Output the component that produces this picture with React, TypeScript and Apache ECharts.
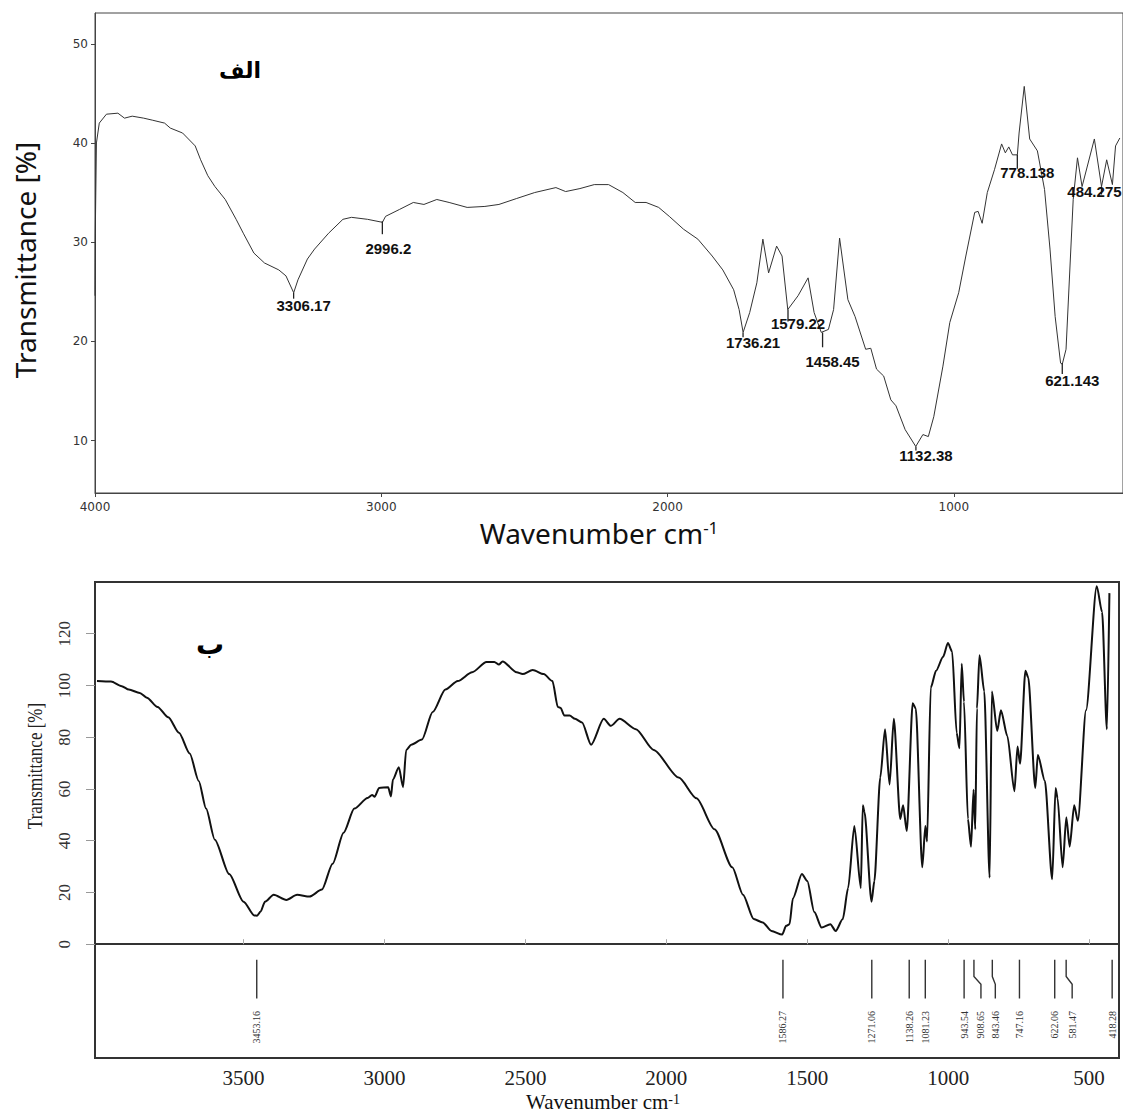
import React, { useEffect, useRef } from 'react';
import * as echarts from 'echarts';

// ---------- Top spectrum (الف) ----------
const topWavenumber = [
  4000, 3999, 3995, 3985, 3960, 3920, 3897, 3870, 3830, 3800, 3757, 3737, 3694, 3650, 3631, 3606, 3581, 3545,
  3507, 3482, 3445, 3408, 3358, 3333, 3306, 3291, 3258, 3233, 3184, 3134, 3104, 3048, 2996, 2985,
  2936, 2888, 2851, 2806, 2763, 2700, 2638, 2589, 2527, 2464, 2390, 2356, 2306, 2256, 2206, 2156,
  2113, 2075, 2031, 1994, 1944, 1894, 1844, 1807, 1769, 1750, 1736, 1713, 1688, 1667, 1647, 1619,
  1600, 1580, 1544, 1509, 1488, 1463, 1438, 1420, 1399, 1370, 1345, 1308, 1290, 1270, 1245, 1220,
  1202, 1170, 1133, 1108, 1089, 1070, 1038, 1014, 983, 958, 927, 915, 901, 883, 858, 833, 820, 808,
  795, 778, 772, 754, 735, 708, 683, 664, 646, 627, 621, 608, 583, 568, 552, 509, 484, 466, 446, 435, 420,
];
const topTransmittance = [
  24.6, 30.9, 40.0, 42.0, 42.9, 43.0, 42.5, 42.7, 42.5, 42.3, 42.0, 41.5, 41.0, 39.7, 38.3, 36.7, 35.6, 34.3,
  32.3, 30.9, 28.9, 27.9, 27.2, 26.6, 24.9, 26.2, 28.3, 29.3, 30.9, 32.3, 32.5, 32.3, 32.0, 32.6,
  33.3, 34.0, 33.8, 34.3, 34.0, 33.5, 33.6, 33.8, 34.4, 35.0, 35.5, 35.1, 35.4, 35.8, 35.8, 35.0,
  34.0, 34.0, 33.5, 32.6, 31.3, 30.3, 28.6, 27.2, 25.2, 23.2, 20.9, 22.9, 25.9, 30.3, 26.9, 29.6,
  28.6, 23.2, 24.6, 26.4, 22.9, 20.9, 21.2, 23.2, 30.4, 24.2, 22.5, 19.2, 19.3, 17.2, 16.5, 14.1,
  13.5, 11.1, 9.4, 10.6, 10.4, 12.4, 17.5, 21.9, 24.9, 28.6, 33.0, 33.1, 31.9, 35.0, 37.3, 39.9, 39.0, 39.6,
  38.8, 38.8, 41.0, 45.7, 40.4, 39.2, 35.3, 29.3, 22.5, 17.8, 17.7, 19.2, 34.3, 38.5, 35.6, 40.4, 35.6, 38.3, 35.8, 39.7, 40.5,
];
const topPeakLabels = ['3306.17', '2996.2', '1736.21', '1579.22', '1458.45', '1132.38', '778.138', '621.143', '484.275'];
const topPeakWavenumber = [3306.17, 2996.2, 1736.21, 1579.22, 1458.45, 1132.38, 778.138, 621.143, 484.275];
const topPeakT = [24.9, 32.1, 20.9, 23.2, 20.9, 9.4, 38.8, 17.8, 35.6];
const topTickEndT = [24.3, 30.8, 20.4, 22.0, 19.4, 9.0, 37.4, 16.7, 34.8];
const topLabelT = [23.6, 29.4, 19.9, 21.8, 18.0, 8.5, 37.0, 16.1, 35.1];
const topXTicks = [4000, 3000, 2000, 1000];
const topYTicks = [10, 20, 30, 40, 50];

// ---------- Bottom spectrum (ب) ----------
const bottomWavenumber = [
  4020, 3970, 3932, 3907, 3868, 3843, 3805, 3767, 3729, 3691, 3659, 3633, 3602, 3551, 3500, 3462, 3452, 3440,
  3424, 3393, 3348, 3310, 3266, 3222, 3184, 3145, 3107, 3060, 3044, 3035, 3019, 2987, 2977, 2970, 2949,
  2934, 2923, 2905, 2867, 2829, 2784, 2740, 2689, 2638, 2610, 2594, 2581, 2531, 2510, 2474, 2435, 2404,
  2385, 2375, 2362, 2343, 2324, 2299, 2267, 2222, 2197, 2166, 2108, 2045, 1956, 1893, 1829, 1766, 1728,
  1690, 1658, 1627, 1589, 1575, 1563, 1551, 1519, 1500, 1475, 1449, 1418, 1399, 1374, 1355, 1333, 1310,
  1303, 1297, 1272, 1262, 1241, 1224, 1208, 1193, 1170, 1160, 1147, 1126, 1115, 1092, 1081, 1075, 1062,
  1043, 1018, 1001, 986, 970, 960, 952, 944, 930, 919, 910, 904, 898, 889, 872, 853, 845, 826, 813, 790,
  765, 754, 745, 726, 716, 691, 682, 657, 631, 619, 612, 594, 581, 569, 553, 540, 511, 473, 454, 437, 428,
];
const bottomTransmittance = [
  101.7, 101.5, 99.7, 98.4, 97.1, 95.3, 91.7, 87.7, 81.7, 73.7, 63.1, 52.4, 40.4, 27.1, 16.4, 11.1, 11.0, 12.5,
  16.4, 19.1, 17.1, 19.1, 18.4, 21.1, 31.1, 43.1, 52.4, 56.5, 57.7, 57.0, 60.4, 60.7, 57.1, 63.7, 68.4,
  60.7, 75.1, 77.1, 79.1, 89.7, 98.4, 101.7, 105.1, 109.1, 109.1, 108.1, 109.3, 105.1, 104.4, 106.0, 104.4, 101.7,
  91.7, 91.3, 88.4, 88.4, 87.1, 85.7, 77.1, 87.1, 84.4, 87.1, 83.1, 75.1, 64.4, 56.4, 44.4, 29.7, 19.1,
  9.7, 8.4, 5.1, 3.7, 7.1, 7.7, 17.7, 27.1, 24.4, 12.4, 6.4, 7.7, 5.1, 9.7, 21.7, 45.7, 21.7,
  53.7, 51.1, 16.4, 24.4, 64.4, 83.1, 61.7, 87.1, 48.4, 53.7, 43.7, 93.1, 91.1, 29.7, 45.7, 39.7, 99.1,
  105.7, 111.1, 116.4, 113.1, 81.7, 75.7, 108.4, 93.7, 48.4, 37.7, 59.7, 44.4, 91.1, 111.7, 97.7, 25.7, 97.7, 82.4, 90.4, 80.4,
  59.1, 76.4, 69.7, 105.7, 103.1, 60.4, 73.1, 63.1, 25.1, 60.4, 56.4, 29.7, 49.1, 37.7, 53.7, 47.7, 90.4, 138.4, 128.4, 83.1, 135.7,
];
const bottomPeakLabels = ['3453.16', '1586.27', '1271.06', '1138.26', '1081.23', '943.54', '908.65', '843.46', '747.16', '622.06', '581.47', '418.28'];
const bottomPeakWavenumber = [3453.16, 1586.27, 1271.06, 1138.26, 1081.23, 943.54, 908.65, 843.46, 747.16, 622.06, 581.47, 418.28];
const bottomLabelShiftPx = [0, 0, 0, 0, 0, 0, 7, 3, 0, 0, 6, 0];
const bottomXTicks = [3500, 3000, 2500, 2000, 1500, 1000, 500];
const bottomYTicks = [0, 20, 40, 60, 80, 100, 120];

const SANS = '"Noto Sans", "Open Sans", sans-serif';
const SERIF = '"Liberation Serif", "DejaVu Serif", serif';
const plain = (v: number) => String(v);

function buildOption(): any {
  return {
    animation: false,
    backgroundColor: '#ffffff',
    grid: [
      { left: 95, right: -2, top: 13, bottom: 620, show: true, borderColor: '#444', borderWidth: 1, backgroundColor: 'transparent' },
      { left: 95, right: 4, top: 582, bottom: 55, show: true, borderColor: '#333', borderWidth: 2, backgroundColor: 'transparent' },
    ],
    xAxis: [
      {
        type: 'value', gridIndex: 0, inverse: true, min: 409, max: 4000,
        axisLine: { show: true, lineStyle: { color: '#444', width: 1 } },
        axisTick: { show: true, inside: false, length: 4, customValues: topXTicks, lineStyle: { color: '#444' } },
        axisLabel: { customValues: topXTicks, formatter: plain, fontFamily: '"DejaVu Sans", sans-serif', fontSize: 12, color: '#333', margin: 8 },
        splitLine: { show: false },
      },
      {
        type: 'value', gridIndex: 1, inverse: true, min: 394, max: 4027,
        axisLine: { show: true, lineStyle: { color: '#333', width: 2 } },
        axisTick: { show: true, inside: true, length: 5, customValues: bottomXTicks, lineStyle: { color: '#aaa' } },
        axisLabel: { customValues: bottomXTicks, formatter: plain, fontFamily: SERIF, fontSize: 21, color: '#222', margin: 9 },
        splitLine: { show: false },
      },
    ],
    yAxis: [
      {
        type: 'value', gridIndex: 0, min: 4.71, max: 53.1,
        axisLine: { show: true, lineStyle: { color: '#444', width: 1 } },
        axisTick: { show: true, inside: false, length: 4, customValues: topYTicks, lineStyle: { color: '#444' } },
        axisLabel: { customValues: topYTicks, formatter: plain, fontFamily: '"DejaVu Sans", sans-serif', fontSize: 12, color: '#333', margin: 7 },
        splitLine: { show: false },
      },
      {
        type: 'value', gridIndex: 1, min: -44, max: 140,
        axisLine: { show: true, lineStyle: { color: '#333', width: 2 } },
        axisTick: { show: true, inside: false, length: 9, customValues: bottomYTicks, lineStyle: { color: '#999' } },
        axisLabel: { customValues: bottomYTicks, formatter: plain, rotate: 90, fontFamily: SERIF, fontSize: 17, color: '#333', margin: 22 },
        splitLine: { show: false },
      },
    ],
    series: [
      {
        type: 'line', xAxisIndex: 0, yAxisIndex: 0, showSymbol: false, symbol: 'none',
        lineStyle: { color: '#333', width: 1 },
        data: topWavenumber.map((w, i) => [w, topTransmittance[i]]),
        silent: true, z: 3,
      },
      {
        type: 'custom', xAxisIndex: 0, yAxisIndex: 0, silent: true, z: 4,
        data: topPeakWavenumber.map((w, i) => [w, topPeakT[i], topTickEndT[i], topLabelT[i], i]),
        renderItem: (params: any, api: any) => {
          const i = api.value(4);
          const w = api.value(0);
          const p0 = api.coord([w, api.value(1)]);
          const p1 = api.coord([w, api.value(2)]);
          const pl = api.coord([w, api.value(3)]);
          const dx = i === 8 ? -7 : i === 1 ? 6 : 10;
          return {
            type: 'group',
            children: [
              { type: 'line', shape: { x1: p0[0], y1: p0[1], x2: p1[0], y2: p1[1] }, style: { stroke: '#222', lineWidth: 1.3 } },
              {
                type: 'text', x: pl[0] + dx, y: pl[1],
                style: {
                  text: topPeakLabels[i], font: 'bold 15px "Liberation Sans", Arial, sans-serif', fill: '#111',
                  align: 'center', verticalAlign: 'middle', textAlign: 'center', textVerticalAlign: 'middle',
                },
              },
            ],
          };
        },
      },
      {
        type: 'line', xAxisIndex: 1, yAxisIndex: 1, showSymbol: false, symbol: 'none',
        smooth: 0.25, smoothMonotone: 'x',
        lineStyle: { color: '#111', width: 2 },
        data: bottomWavenumber.map((w, i) => [w, bottomTransmittance[i]]),
        silent: true, z: 3,
      },
      {
        type: 'custom', xAxisIndex: 1, yAxisIndex: 1, silent: true, z: 4,
        data: bottomPeakWavenumber.map((w, i) => [w, 0, i]),
        renderItem: (params: any, api: any) => {
          const i = api.value(2);
          const w = api.value(0);
          const shift = bottomLabelShiftPx[i];
          const top = api.coord([w, -6]);
          const k1 = api.coord([w, -12.5]);
          const k2 = api.coord([w, -15.5]);
          const bot = api.coord([w, -21]);
          const lab = api.coord([w, -25.8]);
          const x = top[0];
          const lineEl = shift === 0
            ? { type: 'line', shape: { x1: x, y1: top[1], x2: x, y2: bot[1] }, style: { stroke: '#333', lineWidth: 1.4 } }
            : {
                type: 'polyline',
                shape: { points: [[x, top[1]], [x, k1[1]], [x + shift, k2[1]], [x + shift, bot[1]]] },
                style: { stroke: '#333', lineWidth: 1.4, fill: 'none' },
              };
          return {
            type: 'group',
            children: [
              lineEl,
              {
                type: 'text', x: x + shift, y: lab[1], rotation: Math.PI / 2,
                style: {
                  text: bottomPeakLabels[i], font: '10px ' + SERIF, fill: '#333',
                  align: 'right', verticalAlign: 'middle', textAlign: 'right', textVerticalAlign: 'middle',
                },
              },
            ],
          };
        },
      },
    ],
    graphic: [
      {
        type: 'text', x: 25, y: 260, rotation: Math.PI / 2,
        style: {
          text: 'Transmittance [%]', font: '28px ' + SANS, fill: '#111',
          align: 'center', verticalAlign: 'middle', textAlign: 'center', textVerticalAlign: 'middle',
        },
      },
      {
        type: 'text', x: 599, y: 533,
        style: {
          text: '{a|Wavenumber cm}{s|-1}', fill: '#111',
          align: 'center', verticalAlign: 'middle', textAlign: 'center', textVerticalAlign: 'middle',
          rich: {
            a: { fontSize: 28, fontFamily: SANS, fill: '#111' },
            s: { fontSize: 17, fontFamily: SANS, fill: '#111', verticalAlign: 'top' },
          },
        },
      },
      {
        type: 'text', x: 240, y: 70,
        style: {
          text: 'الف', font: 'bold 22px "DejaVu Sans", sans-serif', fill: '#000',
          align: 'center', verticalAlign: 'middle', textAlign: 'center', textVerticalAlign: 'middle',
        },
      },
      {
        type: 'text', x: 35, y: 766, rotation: Math.PI / 2, scaleY: 1.2,
        style: {
          text: 'Transmittance [%]', font: '17px ' + SERIF, fill: '#222',
          align: 'center', verticalAlign: 'middle', textAlign: 'center', textVerticalAlign: 'middle',
        },
      },
      {
        type: 'text', x: 603, y: 1102,
        style: {
          text: '{a|Wavenumber cm}{s|-1}', fill: '#111',
          align: 'center', verticalAlign: 'middle', textAlign: 'center', textVerticalAlign: 'middle',
          rich: {
            a: { fontSize: 21, fontFamily: SERIF, fill: '#111', lineHeight: 20 },
            s: { fontSize: 14, fontFamily: SERIF, fill: '#111', verticalAlign: 'top', lineHeight: 14 },
          },
        },
      },
      {
        type: 'text', x: 210, y: 644,
        style: {
          text: 'ب', font: 'bold 28px "DejaVu Sans", sans-serif', fill: '#000',
          align: 'center', verticalAlign: 'middle', textAlign: 'center', textVerticalAlign: 'middle',
        },
      },
    ],
  };
}

const App: React.FC = () => {
  const ref = useRef<HTMLDivElement>(null);
  useEffect(() => {
    if (!ref.current) return;
    const chart = echarts.init(ref.current, null, { renderer: 'svg' });
    chart.setOption(buildOption());
    return () => {
      chart.dispose();
    };
  }, []);
  return (
    <div
      ref={ref}
      style={{ position: 'absolute', left: 0, top: 0, width: 1123, height: 1113, background: '#ffffff' }}
    />
  );
};

export default App;
